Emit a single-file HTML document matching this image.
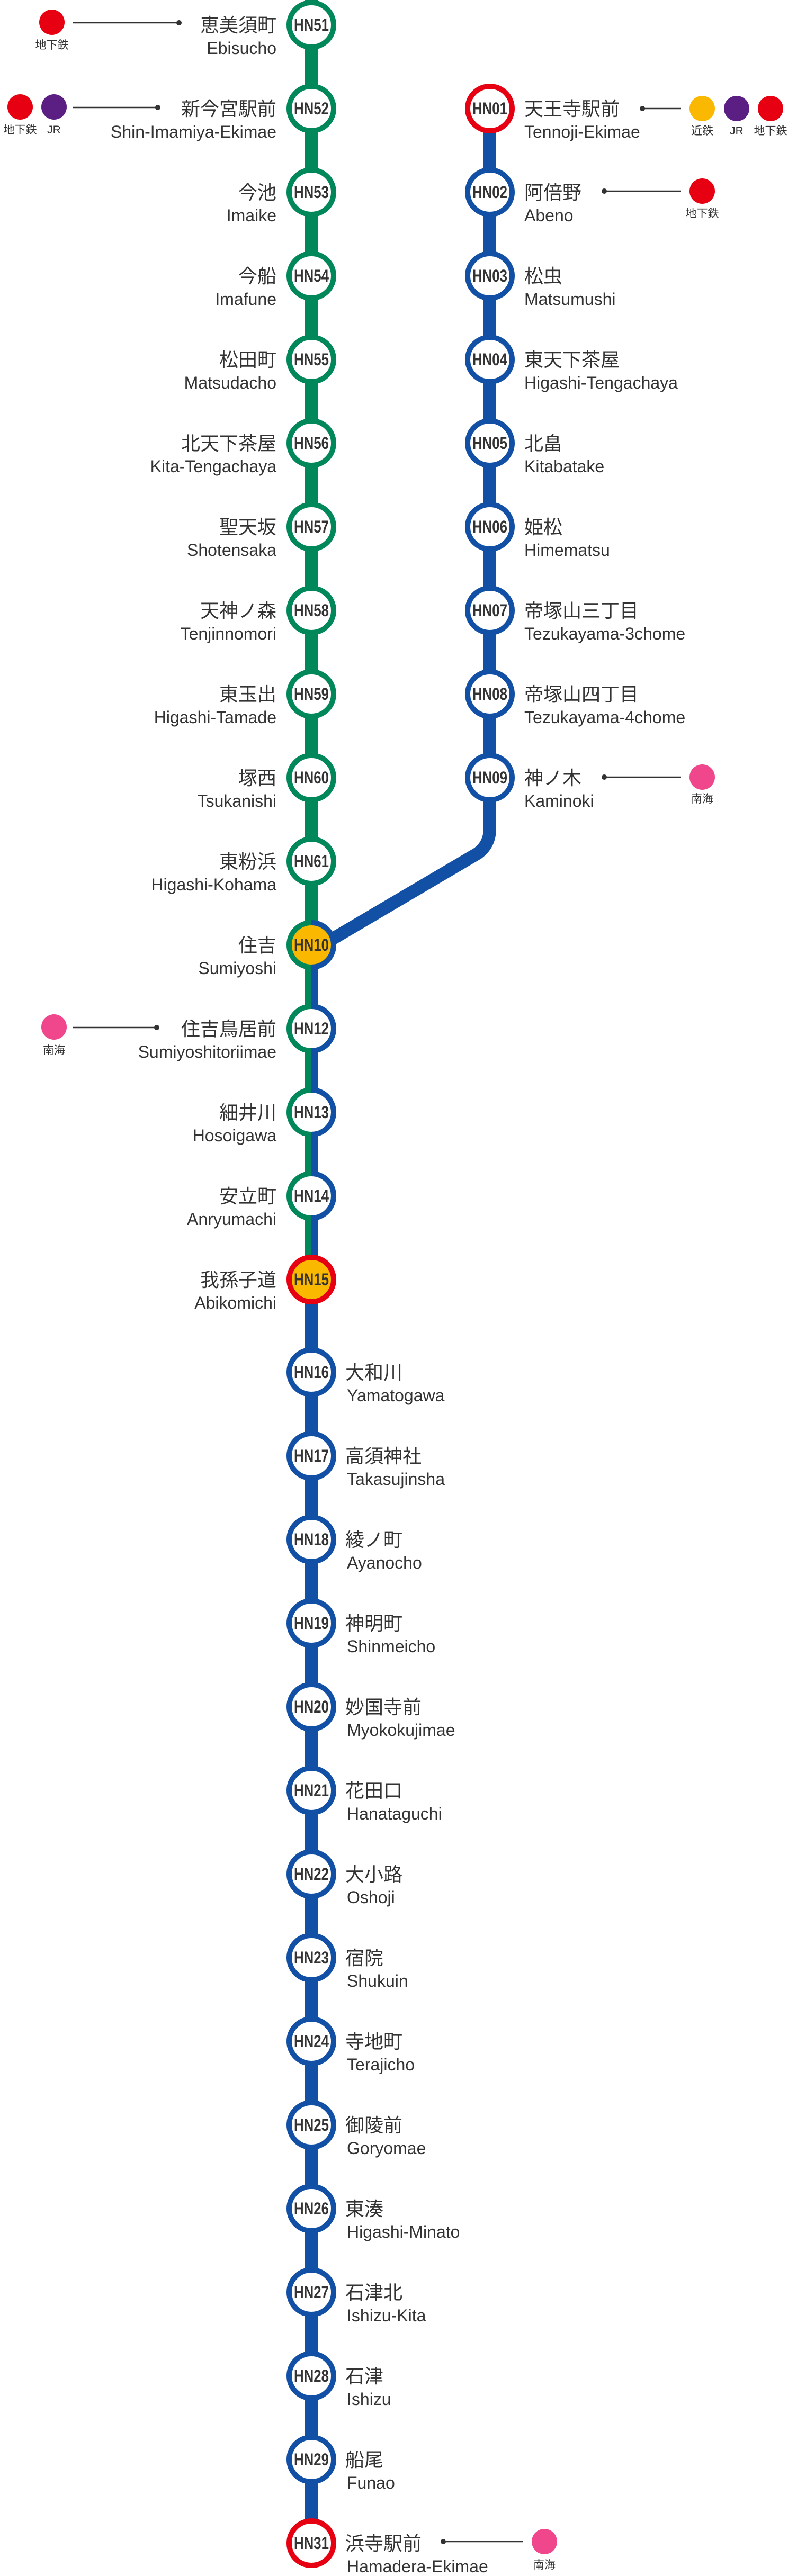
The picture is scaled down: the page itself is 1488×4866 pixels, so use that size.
<!DOCTYPE html>
<html><head><meta charset="utf-8"><style>
html,body{margin:0;padding:0;background:#fff;}
svg{display:block}
.jp{font-family:"Liberation Sans","Noto Sans CJK JP",sans-serif;font-size:36px;fill:#333}
.en{font-family:"Liberation Sans",sans-serif;font-size:32px;fill:#333}
.cd{font-family:"Liberation Sans Narrow","Liberation Sans",sans-serif;font-weight:bold;font-size:32px;fill:#333;text-anchor:middle}
.tl{font-family:"Liberation Sans","Noto Sans CJK JP",sans-serif;font-size:21px;fill:#333;text-anchor:middle}
.r{text-anchor:end}
</style></head><body>
<svg width="1488" height="4866" viewBox="0 0 1488 4866" xmlns="http://www.w3.org/2000/svg">
<defs><clipPath id="rh"><rect x="588" y="0" width="100" height="4866"/></clipPath></defs>
<rect x="576" y="0" width="24" height="1785" fill="#00875A"/>
<rect x="576" y="1785" width="12" height="632" fill="#00875A"/>
<rect x="588" y="1785" width="12" height="632" fill="#1150A5"/>
<rect x="576" y="2417" width="24" height="2387" fill="#1150A5"/>
<path d="M925 205 V1565 Q925 1595 902 1612 L600 1790" fill="none" stroke="#1150A5" stroke-width="24"/>

<g fill="#fff" stroke="#00875A" stroke-width="10">
<circle cx="588" cy="47" r="42"/><circle cx="588" cy="205" r="42"/><circle cx="588" cy="363" r="42"/><circle cx="588" cy="521" r="42"/><circle cx="588" cy="679" r="42"/><circle cx="588" cy="837" r="42"/><circle cx="588" cy="995" r="42"/><circle cx="588" cy="1153" r="42"/><circle cx="588" cy="1311" r="42"/><circle cx="588" cy="1469" r="42"/><circle cx="588" cy="1627" r="42"/>
<circle cx="588" cy="1785" r="42" fill="#FBB800"/><circle cx="588" cy="1943" r="42"/><circle cx="588" cy="2101" r="42"/><circle cx="588" cy="2259" r="42"/>
</g>
<g fill="none" stroke="#1150A5" stroke-width="10" clip-path="url(#rh)">
<circle cx="588" cy="1785" r="42"/><circle cx="588" cy="1943" r="42"/><circle cx="588" cy="2101" r="42"/><circle cx="588" cy="2259" r="42"/>
</g>
<circle cx="588" cy="2417" r="42" fill="#FBB800" stroke="#E60012" stroke-width="10"/>
<g fill="#fff" stroke="#1150A5" stroke-width="10">
<circle cx="925" cy="205" r="42" stroke="#E60012"/><circle cx="925" cy="363" r="42"/><circle cx="925" cy="521" r="42"/><circle cx="925" cy="679" r="42"/><circle cx="925" cy="837" r="42"/><circle cx="925" cy="995" r="42"/><circle cx="925" cy="1153" r="42"/><circle cx="925" cy="1311" r="42"/><circle cx="925" cy="1469" r="42"/>
</g>
<g fill="#fff" stroke="#1150A5" stroke-width="10">
<circle cx="588" cy="2592" r="42"/><circle cx="588" cy="2750" r="42"/><circle cx="588" cy="2908" r="42"/><circle cx="588" cy="3066" r="42"/><circle cx="588" cy="3224" r="42"/><circle cx="588" cy="3382" r="42"/><circle cx="588" cy="3540" r="42"/><circle cx="588" cy="3698" r="42"/><circle cx="588" cy="3856" r="42"/><circle cx="588" cy="4014" r="42"/><circle cx="588" cy="4172" r="42"/><circle cx="588" cy="4330" r="42"/><circle cx="588" cy="4488" r="42"/><circle cx="588" cy="4646" r="42"/>
<circle cx="588" cy="4804" r="42" stroke="#E60012"/>
</g>

<g class="cd">
<text x="588" y="58" textLength="66" lengthAdjust="spacingAndGlyphs">HN51</text><text x="588" y="216" textLength="66" lengthAdjust="spacingAndGlyphs">HN52</text><text x="588" y="374" textLength="66" lengthAdjust="spacingAndGlyphs">HN53</text><text x="588" y="532" textLength="66" lengthAdjust="spacingAndGlyphs">HN54</text><text x="588" y="690" textLength="66" lengthAdjust="spacingAndGlyphs">HN55</text><text x="588" y="848" textLength="66" lengthAdjust="spacingAndGlyphs">HN56</text><text x="588" y="1006" textLength="66" lengthAdjust="spacingAndGlyphs">HN57</text><text x="588" y="1164" textLength="66" lengthAdjust="spacingAndGlyphs">HN58</text><text x="588" y="1322" textLength="66" lengthAdjust="spacingAndGlyphs">HN59</text><text x="588" y="1480" textLength="66" lengthAdjust="spacingAndGlyphs">HN60</text><text x="588" y="1638" textLength="66" lengthAdjust="spacingAndGlyphs">HN61</text><text x="588" y="1796" textLength="66" lengthAdjust="spacingAndGlyphs">HN10</text><text x="588" y="1954" textLength="66" lengthAdjust="spacingAndGlyphs">HN12</text><text x="588" y="2112" textLength="66" lengthAdjust="spacingAndGlyphs">HN13</text><text x="588" y="2270" textLength="66" lengthAdjust="spacingAndGlyphs">HN14</text><text x="588" y="2428" textLength="66" lengthAdjust="spacingAndGlyphs">HN15</text>
<text x="925" y="216" textLength="66" lengthAdjust="spacingAndGlyphs">HN01</text><text x="925" y="374" textLength="66" lengthAdjust="spacingAndGlyphs">HN02</text><text x="925" y="532" textLength="66" lengthAdjust="spacingAndGlyphs">HN03</text><text x="925" y="690" textLength="66" lengthAdjust="spacingAndGlyphs">HN04</text><text x="925" y="848" textLength="66" lengthAdjust="spacingAndGlyphs">HN05</text><text x="925" y="1006" textLength="66" lengthAdjust="spacingAndGlyphs">HN06</text><text x="925" y="1164" textLength="66" lengthAdjust="spacingAndGlyphs">HN07</text><text x="925" y="1322" textLength="66" lengthAdjust="spacingAndGlyphs">HN08</text><text x="925" y="1480" textLength="66" lengthAdjust="spacingAndGlyphs">HN09</text>
<text x="588" y="2603" textLength="66" lengthAdjust="spacingAndGlyphs">HN16</text><text x="588" y="2761" textLength="66" lengthAdjust="spacingAndGlyphs">HN17</text><text x="588" y="2919" textLength="66" lengthAdjust="spacingAndGlyphs">HN18</text><text x="588" y="3077" textLength="66" lengthAdjust="spacingAndGlyphs">HN19</text><text x="588" y="3235" textLength="66" lengthAdjust="spacingAndGlyphs">HN20</text><text x="588" y="3393" textLength="66" lengthAdjust="spacingAndGlyphs">HN21</text><text x="588" y="3551" textLength="66" lengthAdjust="spacingAndGlyphs">HN22</text><text x="588" y="3709" textLength="66" lengthAdjust="spacingAndGlyphs">HN23</text><text x="588" y="3867" textLength="66" lengthAdjust="spacingAndGlyphs">HN24</text><text x="588" y="4025" textLength="66" lengthAdjust="spacingAndGlyphs">HN25</text><text x="588" y="4183" textLength="66" lengthAdjust="spacingAndGlyphs">HN26</text><text x="588" y="4341" textLength="66" lengthAdjust="spacingAndGlyphs">HN27</text><text x="588" y="4499" textLength="66" lengthAdjust="spacingAndGlyphs">HN28</text><text x="588" y="4657" textLength="66" lengthAdjust="spacingAndGlyphs">HN29</text><text x="588" y="4815" textLength="66" lengthAdjust="spacingAndGlyphs">HN31</text>
</g>

<text class="jp r" x="522" y="60">恵美須町</text><text class="en r" x="522" y="102">Ebisucho</text>
<text class="jp r" x="522" y="218">新今宮駅前</text><text class="en r" x="522" y="260">Shin-Imamiya-Ekimae</text>
<text class="jp r" x="522" y="376">今池</text><text class="en r" x="522" y="418">Imaike</text>
<text class="jp r" x="522" y="534">今船</text><text class="en r" x="522" y="576">Imafune</text>
<text class="jp r" x="522" y="692">松田町</text><text class="en r" x="522" y="734">Matsudacho</text>
<text class="jp r" x="522" y="850">北天下茶屋</text><text class="en r" x="522" y="892">Kita-Tengachaya</text>
<text class="jp r" x="522" y="1008">聖天坂</text><text class="en r" x="522" y="1050">Shotensaka</text>
<text class="jp r" x="522" y="1166">天神ノ森</text><text class="en r" x="522" y="1208">Tenjinnomori</text>
<text class="jp r" x="522" y="1324">東玉出</text><text class="en r" x="522" y="1366">Higashi-Tamade</text>
<text class="jp r" x="522" y="1482">塚西</text><text class="en r" x="522" y="1524">Tsukanishi</text>
<text class="jp r" x="522" y="1640">東粉浜</text><text class="en r" x="522" y="1682">Higashi-Kohama</text>
<text class="jp r" x="522" y="1798">住吉</text><text class="en r" x="522" y="1840">Sumiyoshi</text>
<text class="jp r" x="522" y="1956">住吉鳥居前</text><text class="en r" x="522" y="1998">Sumiyoshitoriimae</text>
<text class="jp r" x="522" y="2114">細井川</text><text class="en r" x="522" y="2156">Hosoigawa</text>
<text class="jp r" x="522" y="2272">安立町</text><text class="en r" x="522" y="2314">Anryumachi</text>
<text class="jp r" x="522" y="2430">我孫子道</text><text class="en r" x="522" y="2472">Abikomichi</text>

<text class="jp" x="990" y="218">天王寺駅前</text><text class="en" x="990" y="260">Tennoji-Ekimae</text>
<text class="jp" x="990" y="376">阿倍野</text><text class="en" x="990" y="418">Abeno</text>
<text class="jp" x="990" y="534">松虫</text><text class="en" x="990" y="576">Matsumushi</text>
<text class="jp" x="990" y="692">東天下茶屋</text><text class="en" x="990" y="734">Higashi-Tengachaya</text>
<text class="jp" x="990" y="850">北畠</text><text class="en" x="990" y="892">Kitabatake</text>
<text class="jp" x="990" y="1008">姫松</text><text class="en" x="990" y="1050">Himematsu</text>
<text class="jp" x="990" y="1166">帝塚山三丁目</text><text class="en" x="990" y="1208">Tezukayama-3chome</text>
<text class="jp" x="990" y="1324">帝塚山四丁目</text><text class="en" x="990" y="1366">Tezukayama-4chome</text>
<text class="jp" x="990" y="1482">神ノ木</text><text class="en" x="990" y="1524">Kaminoki</text>

<text class="jp" x="652" y="2605">大和川</text><text class="en" x="655" y="2647">Yamatogawa</text>
<text class="jp" x="652" y="2763">高須神社</text><text class="en" x="655" y="2805">Takasujinsha</text>
<text class="jp" x="652" y="2921">綾ノ町</text><text class="en" x="655" y="2963">Ayanocho</text>
<text class="jp" x="652" y="3079">神明町</text><text class="en" x="655" y="3121">Shinmeicho</text>
<text class="jp" x="652" y="3237">妙国寺前</text><text class="en" x="655" y="3279">Myokokujimae</text>
<text class="jp" x="652" y="3395">花田口</text><text class="en" x="655" y="3437">Hanataguchi</text>
<text class="jp" x="652" y="3553">大小路</text><text class="en" x="655" y="3595">Oshoji</text>
<text class="jp" x="652" y="3711">宿院</text><text class="en" x="655" y="3753">Shukuin</text>
<text class="jp" x="652" y="3869">寺地町</text><text class="en" x="655" y="3911">Terajicho</text>
<text class="jp" x="652" y="4027">御陵前</text><text class="en" x="655" y="4069">Goryomae</text>
<text class="jp" x="652" y="4185">東湊</text><text class="en" x="655" y="4227">Higashi-Minato</text>
<text class="jp" x="652" y="4343">石津北</text><text class="en" x="655" y="4385">Ishizu-Kita</text>
<text class="jp" x="652" y="4501">石津</text><text class="en" x="655" y="4543">Ishizu</text>
<text class="jp" x="652" y="4659">船尾</text><text class="en" x="655" y="4701">Funao</text>
<text class="jp" x="652" y="4817">浜寺駅前</text><text class="en" x="655" y="4859">Hamadera-Ekimae</text>

<g stroke="#333" stroke-width="2.5">
<line x1="138" y1="43" x2="338" y2="43"/><line x1="138" y1="203" x2="298" y2="203"/>
<line x1="1213" y1="205" x2="1286" y2="205"/><line x1="1141" y1="361" x2="1286" y2="361"/>
<line x1="1141" y1="1468" x2="1286" y2="1468"/><line x1="138" y1="1941" x2="296" y2="1941"/>
<line x1="837" y1="4801" x2="988" y2="4801"/>
</g>
<g fill="#333">
<circle cx="338" cy="43" r="5"/><circle cx="298" cy="203" r="5"/><circle cx="1213" cy="205" r="5"/><circle cx="1141" cy="361" r="5"/><circle cx="1141" cy="1468" r="5"/><circle cx="296" cy="1941" r="5"/><circle cx="837" cy="4801" r="5"/>
</g>
<circle cx="98" cy="42" r="24" fill="#E60012"/>
<circle cx="38" cy="202" r="24" fill="#E60012"/><circle cx="102" cy="202" r="24" fill="#5B1F84"/>
<circle cx="1326" cy="205" r="24" fill="#FBB800"/><circle cx="1391" cy="205" r="24" fill="#5B1F84"/><circle cx="1455" cy="205" r="24" fill="#E60012"/>
<circle cx="1326" cy="361" r="24" fill="#E60012"/>
<circle cx="1326" cy="1468" r="24" fill="#F0468C"/>
<circle cx="102" cy="1940" r="24" fill="#F0468C"/>
<circle cx="1028" cy="4801" r="24" fill="#F0468C"/>
<text class="tl" x="98" y="92">地下鉄</text>
<text class="tl" x="38" y="252">地下鉄</text><text class="tl" x="102" y="252">JR</text>
<text class="tl" x="1326" y="254">近鉄</text><text class="tl" x="1391" y="254">JR</text><text class="tl" x="1455" y="254">地下鉄</text>
<text class="tl" x="1326" y="410">地下鉄</text>
<text class="tl" x="1326" y="1516">南海</text>
<text class="tl" x="102" y="1991">南海</text>
<text class="tl" x="1028" y="4852">南海</text>
</svg>
</body></html>
